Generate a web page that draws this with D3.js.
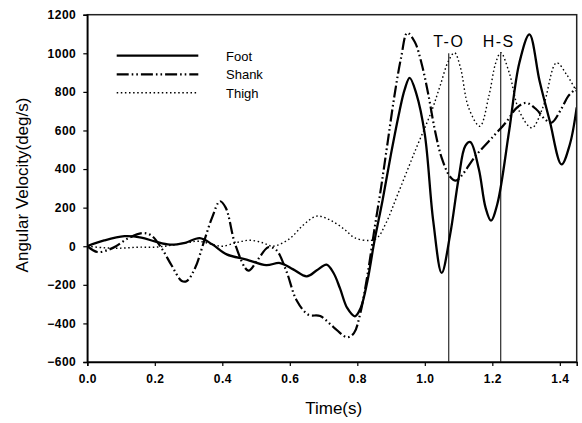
<!DOCTYPE html>
<html><head><meta charset="utf-8">
<script src="https://cdn.jsdelivr.net/npm/d3@7"></script>
<style>
body{margin:0;background:#fff;}
svg{display:block;}
text{font-family:"Liberation Sans",Arial,sans-serif;fill:#000;}
</style></head><body>
<div id="chart"></div>
<script>
const seriesNames = ["Foot", "Shank", "Thigh"];
const xTicks = [0, 0.2, 0.4, 0.6, 0.8, 1.0, 1.2, 1.4];
const yTicks = [-600, -400, -200, 0, 200, 400, 600, 800, 1000, 1200];
const eventLabels = ["T-O", "H-S"];
const eventTimes = [1.071, 1.225];
const eventTop = [1000, 1000];

const footT = [0, 0.05, 0.11, 0.16, 0.2, 0.245, 0.29, 0.333, 0.37, 0.413, 0.472, 0.53, 0.571, 0.61, 0.65, 0.68, 0.709, 0.73, 0.749, 0.77, 0.793, 0.81, 0.83, 0.85, 0.875, 0.9, 0.925, 0.94, 0.955, 0.975, 1.0, 1.025, 1.05, 1.075, 1.1, 1.12, 1.135, 1.16, 1.18, 1.196, 1.215, 1.25, 1.28, 1.31, 1.34, 1.37, 1.405, 1.43, 1.45];
const footV = [0, 30, 52, 45, 25, 8, 18, 42, 10, -42, -69, -98, -87, -120, -156, -125, -95, -140, -220, -320, -363, -320, -180, 20, 240, 480, 700, 810, 873, 790, 580, 130, -138, 60, 350, 520, 540, 400, 200, 133, 220, 600, 950, 1098, 856, 650, 424, 530, 720];

const shankT = [0, 0.03, 0.06, 0.085, 0.12, 0.165, 0.19, 0.22, 0.25, 0.28, 0.295, 0.32, 0.345, 0.37, 0.393, 0.41, 0.44, 0.477, 0.505, 0.536, 0.56, 0.59, 0.62, 0.655, 0.69, 0.73, 0.77, 0.79, 0.808, 0.83, 0.85, 0.87, 0.89, 0.91, 0.93, 0.948, 0.97, 0.99, 1.01, 1.03, 1.05, 1.075, 1.092, 1.154, 1.208, 1.243, 1.272, 1.3, 1.33, 1.355, 1.375, 1.406, 1.425, 1.45];
const shankV = [0, -30, -20, 0, 40, 68, 55, -10, -100, -180, -180, -110, 20, 150, 233, 200, 0, -126, -70, -5, -20, -130, -280, -355, -362, -420, -472, -450, -354, -150, 80, 300, 540, 780, 980, 1106, 1060, 950, 790, 600, 458, 360, 340, 476, 579, 648, 717, 743, 710, 660, 640, 717, 778, 820];

const thighT = [0, 0.05, 0.1, 0.15, 0.2, 0.25, 0.3, 0.33, 0.37, 0.4, 0.44, 0.48, 0.52, 0.55, 0.6, 0.64, 0.68, 0.72, 0.76, 0.793, 0.838, 0.86, 0.885, 0.92, 0.971, 1.02, 1.045, 1.07, 1.088, 1.105, 1.13, 1.163, 1.19, 1.21, 1.225, 1.25, 1.28, 1.317, 1.35, 1.39, 1.42, 1.45];
const thighV = [0, -8, -10, -5, -5, 5, 20, 26, 10, 0, 18, 31, 18, 0, 40, 110, 156, 135, 90, 43, 30, 45, 120, 270, 493, 700, 830, 960, 1003, 930, 717, 622, 780, 950, 1003, 900, 700, 614, 720, 951, 890, 800];

const W = 582, H = 423;
const x = d3.scaleLinear().domain([0, 1.45]).range([87.3, 576.7]);
const y = d3.scaleLinear().domain([-600, 1200]).range([362, 14.7]);

const svg = d3.select("#chart").append("svg").attr("width", W).attr("height", H);

const zip = (ts, vs) => ts.map((t, i) => [t, vs[i]]);
const series = [
  {name: seriesNames[0], data: zip(footT, footV), dash: null, width: 2.3},
  {name: seriesNames[1], data: zip(shankT, shankV), dash: "12,3,1.6,3,1.6,3", width: 2.2},
  {name: seriesNames[2], data: zip(thighT, thighV), dash: "1.5,2.6", width: 1.4}
];

const clip = svg.append("clipPath").attr("id", "c").append("rect")
  .attr("x", x(0)).attr("y", y(1200)).attr("width", x(1.45) - x(0)).attr("height", y(-600) - y(1200));

const line = d3.line().x(d => x(d[0])).y(d => y(d[1])).curve(d3.curveCatmullRom.alpha(0.5));

const g = svg.append("g").attr("clip-path", "url(#c)");
series.forEach(s => {
  g.append("path").attr("d", line(s.data)).attr("fill", "none").attr("stroke", "#000")
    .attr("stroke-width", s.width).attr("stroke-dasharray", s.dash)
    .attr("stroke-linejoin", "round");
});

// event lines
eventTimes.forEach((t, i) => {
  svg.append("line").attr("x1", x(t)).attr("x2", x(t)).attr("y1", y(-600)).attr("y2", y(eventTop[i]))
    .attr("stroke", "#000").attr("stroke-width", 1);
  svg.append("text").attr("x", x(t) + (i === 0 ? 0 : -2)).attr("y", 47).attr("text-anchor", "middle")
    .style("font-size", "16px").style("letter-spacing", "1.5px").text(eventLabels[i]);
});

// frame
svg.append("rect").attr("x", x(0)).attr("y", y(1200)).attr("width", x(1.45) - x(0)).attr("height", y(-600) - y(1200))
  .attr("fill", "none").attr("stroke", "#222").attr("stroke-width", 1.5);

// axes
const xAxis = d3.axisBottom(x).tickValues(xTicks).tickFormat(d3.format(".1f")).tickSize(4).tickPadding(8);
const yAxis = d3.axisLeft(y).tickValues(yTicks).tickFormat(d3.format("d")).tickSize(4).tickPadding(7);
const gx = svg.append("g").attr("transform", `translate(0,${y(-600)})`).call(xAxis);
const gy = svg.append("g").attr("transform", `translate(${x(0)},0)`).call(yAxis);
[gx, gy].forEach(a => {
  a.select(".domain").attr("stroke", "#000").attr("stroke-width", 1.5);
  a.selectAll(".tick line").attr("stroke", "#000").attr("stroke-width", 1.2);
  a.selectAll(".tick text").attr("fill", "#000").style("font-family", "'Liberation Sans',Arial,sans-serif")
    .style("font-size", "12px").style("font-weight", "bold").style("letter-spacing", "0.5px");
});

// axis titles
svg.append("text").attr("x", x(0.73)).attr("y", 414).attr("text-anchor", "middle")
  .style("font-size", "17px").text("Time(s)");
svg.append("text").attr("transform", `translate(28,${185}) rotate(-90)`).attr("text-anchor", "middle")
  .style("font-size", "17px").text("Angular Velocity(deg/s)");

// legend
const legY = [55.7, 74.3, 92.7];
series.forEach((s, i) => {
  svg.append("line").attr("x1", 116.7).attr("x2", 198.3).attr("y1", legY[i]).attr("y2", legY[i])
    .attr("stroke", "#000").attr("stroke-width", s.width).attr("stroke-dasharray", s.dash);
  svg.append("text").attr("x", 226).attr("y", legY[i] + 5).style("font-size", "13px").text(s.name);
});
</script>
</body></html>
